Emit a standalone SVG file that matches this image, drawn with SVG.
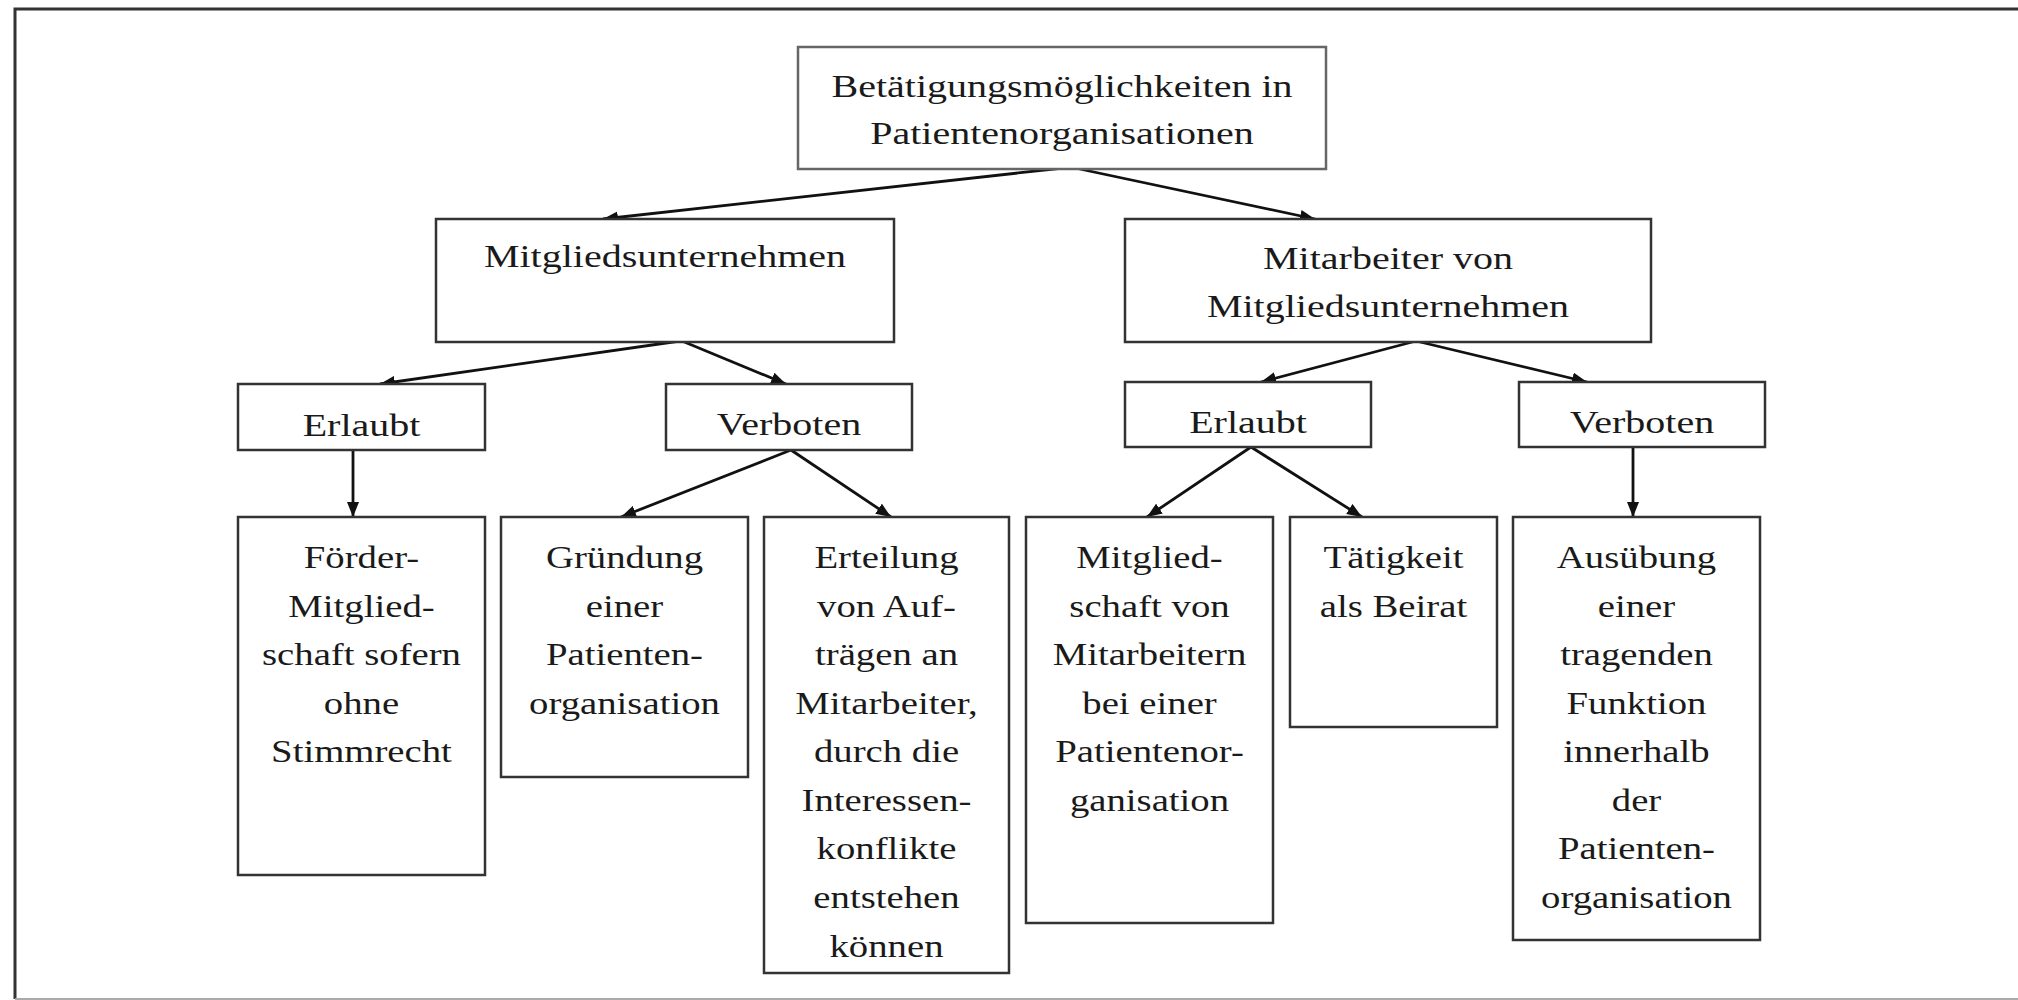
<svg xmlns="http://www.w3.org/2000/svg" width="2018" height="1000" viewBox="0 0 2018 1000">
<style>
.box{fill:#fff;stroke:#333;stroke-width:2.5}
.top{fill:#fff;stroke:#666;stroke-width:2.5}
.t{font-family:"Liberation Serif","Times New Roman",serif;fill:#1a1a1a;text-anchor:middle}
.l{font-size:32px}
.s{font-size:31px}
.c{fill:none;stroke:#111;stroke-width:2.8}
</style>
<defs>
<marker id="ah" markerUnits="userSpaceOnUse" markerWidth="16" markerHeight="12" refX="15" refY="6" orient="auto">
<path d="M0,0 L15,6 L0,12 z" fill="#111"/>
</marker>
</defs>
<rect width="2018" height="1000" fill="#fff"/>
<path d="M2018 9 H15 V999" fill="none" stroke="#333" stroke-width="3"/>
<line x1="15" y1="999" x2="2018" y2="999" stroke="#aaa" stroke-width="2"/>

<g id="connectors">
<path class="c" d="M1063 168 L603 219" marker-end="url(#ah)"/>
<path class="c" d="M1075 168 L1315 219" marker-end="url(#ah)"/>
<path class="c" d="M680 341 L380 384" marker-end="url(#ah)"/>
<path class="c" d="M682 341 L786 384" marker-end="url(#ah)"/>
<path class="c" d="M1416 341 L1261 382" marker-end="url(#ah)"/>
<path class="c" d="M1416 341 L1587 382" marker-end="url(#ah)"/>
<path class="c" d="M353 450 L353 517" marker-end="url(#ah)"/>
<path class="c" d="M791 450 L621 517" marker-end="url(#ah)"/>
<path class="c" d="M791 450 L891 517" marker-end="url(#ah)"/>
<path class="c" d="M1251 447 L1147 517" marker-end="url(#ah)"/>
<path class="c" d="M1251 447 L1362 517" marker-end="url(#ah)"/>
<path class="c" d="M1633 447 L1633 517" marker-end="url(#ah)"/>
</g>

<g id="root">
<rect class="top" x="798" y="47" width="528" height="122"/>
<text class="t l" transform="translate(1062 0) scale(1.25 1)" x="0" y="97">Betätigungsmöglichkeiten in</text>
<text class="t l" transform="translate(1062 0) scale(1.25 1)" x="0" y="144">Patientenorganisationen</text>
</g>

<g id="mitgliedsunternehmen">
<rect class="box" x="436" y="219" width="458" height="123"/>
<text class="t l" transform="translate(665 0) scale(1.25 1)" x="0" y="267">Mitgliedsunternehmen</text>
</g>

<g id="mitarbeiter">
<rect class="box" x="1125" y="219" width="526" height="123"/>
<text class="t l" transform="translate(1388 0) scale(1.25 1)" x="0" y="269">Mitarbeiter von</text>
<text class="t l" transform="translate(1388 0) scale(1.25 1)" x="0" y="317">Mitgliedsunternehmen</text>
</g>

<g id="erlaubt-links">
<rect class="box" x="238" y="384" width="247" height="66"/>
<text class="t l" transform="translate(361.5 0) scale(1.25 1)" x="0" y="436">Erlaubt</text>
</g>

<g id="verboten-links">
<rect class="box" x="666" y="384" width="246" height="66"/>
<text class="t l" transform="translate(789 0) scale(1.25 1)" x="0" y="435">Verboten</text>
</g>

<g id="erlaubt-rechts">
<rect class="box" x="1125" y="382" width="246" height="65"/>
<text class="t l" transform="translate(1248 0) scale(1.25 1)" x="0" y="433">Erlaubt</text>
</g>

<g id="verboten-rechts">
<rect class="box" x="1519" y="382" width="246" height="65"/>
<text class="t l" transform="translate(1642 0) scale(1.25 1)" x="0" y="433">Verboten</text>
</g>

<g id="foerder">
<rect class="box" x="238" y="517" width="247" height="358"/>
<g class="t s" transform="translate(361.5 0) scale(1.25 1)">
<text x="0" y="568">Förder-</text>
<text x="0" y="617">Mitglied-</text>
<text x="0" y="665">schaft sofern</text>
<text x="0" y="714">ohne</text>
<text x="0" y="762">Stimmrecht</text>
</g>
</g>

<g id="gruendung">
<rect class="box" x="501" y="517" width="247" height="260"/>
<g class="t s" transform="translate(624.5 0) scale(1.25 1)">
<text x="0" y="568">Gründung</text>
<text x="0" y="617">einer</text>
<text x="0" y="665">Patienten-</text>
<text x="0" y="714">organisation</text>
</g>
</g>

<g id="erteilung">
<rect class="box" x="764" y="517" width="245" height="456"/>
<g class="t s" transform="translate(886.5 0) scale(1.25 1)">
<text x="0" y="568">Erteilung</text>
<text x="0" y="617">von Auf-</text>
<text x="0" y="665">trägen an</text>
<text x="0" y="714">Mitarbeiter,</text>
<text x="0" y="762">durch die</text>
<text x="0" y="811">Interessen-</text>
<text x="0" y="859">konflikte</text>
<text x="0" y="908">entstehen</text>
<text x="0" y="957">können</text>
</g>
</g>

<g id="mitgliedschaft">
<rect class="box" x="1026" y="517" width="247" height="406"/>
<g class="t s" transform="translate(1149.5 0) scale(1.25 1)">
<text x="0" y="568">Mitglied-</text>
<text x="0" y="617">schaft von</text>
<text x="0" y="665">Mitarbeitern</text>
<text x="0" y="714">bei einer</text>
<text x="0" y="762">Patientenor-</text>
<text x="0" y="811">ganisation</text>
</g>
</g>

<g id="taetigkeit">
<rect class="box" x="1290" y="517" width="207" height="210"/>
<g class="t s" transform="translate(1393.5 0) scale(1.25 1)">
<text x="0" y="568">Tätigkeit</text>
<text x="0" y="617">als Beirat</text>
</g>
</g>

<g id="ausuebung">
<rect class="box" x="1513" y="517" width="247" height="423"/>
<g class="t s" transform="translate(1636.5 0) scale(1.25 1)">
<text x="0" y="568">Ausübung</text>
<text x="0" y="617">einer</text>
<text x="0" y="665">tragenden</text>
<text x="0" y="714">Funktion</text>
<text x="0" y="762">innerhalb</text>
<text x="0" y="811">der</text>
<text x="0" y="859">Patienten-</text>
<text x="0" y="908">organisation</text>
</g>
</g>
</svg>
